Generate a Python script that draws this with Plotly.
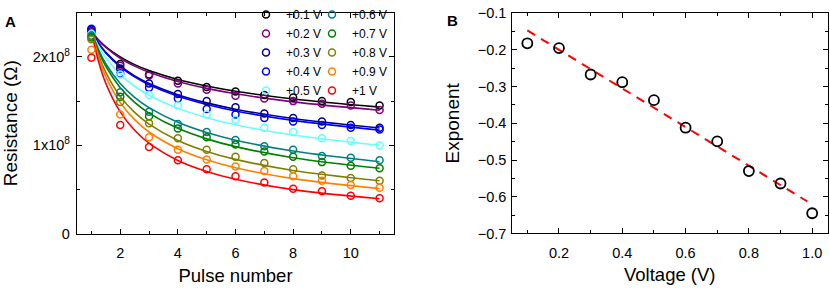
import plotly.graph_objects as go

# ---------------- data ----------------
pulses = [1, 2, 3, 4, 5, 6, 7, 8, 9, 10, 11]
labels = ["+0.1 V", "+0.2 V", "+0.3 V", "+0.4 V", "+0.5 V",
          "+0.6 V", "+0.7 V", "+0.8 V", "+0.9 V", "+1 V"]
colors = ["#000000", "#800080", "#00008B", "#0000FF", "#66FFFF",
          "#008080", "#008000", "#808000", "#FF8000", "#FF0000"]

# measured resistance (units of 1e8 Ohm)
r_01 = [2.29, 1.92, 1.80, 1.73, 1.66, 1.61, 1.57, 1.54, 1.50, 1.49, 1.45]
r_02 = [2.28, 1.90, 1.79, 1.70, 1.63, 1.56, 1.53, 1.50, 1.47, 1.45, 1.40]
r_03 = [2.31, 1.87, 1.70, 1.58, 1.50, 1.43, 1.36, 1.31, 1.27, 1.23, 1.20]
r_04 = [2.32, 1.81, 1.65, 1.53, 1.41, 1.35, 1.31, 1.27, 1.23, 1.20, 1.18]
r_05 = [2.26, 1.80, 1.57, 1.45, 1.35, 1.29, 1.20, 1.15, 1.08, 1.05, 1.00]
r_06 = [2.24, 1.60, 1.38, 1.24, 1.15, 1.06, 0.99, 0.95, 0.88, 0.86, 0.83]
r_07 = [2.22, 1.55, 1.33, 1.19, 1.09, 1.01, 0.93, 0.87, 0.81, 0.77, 0.74]
r_08 = [2.20, 1.49, 1.25, 1.08, 0.95, 0.87, 0.80, 0.73, 0.66, 0.63, 0.60]
r_09 = [2.08, 1.35, 1.09, 0.95, 0.84, 0.76, 0.71, 0.65, 0.60, 0.55, 0.52]
r_10 = [1.99, 1.23, 0.98, 0.83, 0.73, 0.65, 0.58, 0.51, 0.48, 0.43, 0.40]
measured = [r_01, r_02, r_03, r_04, r_05, r_06, r_07, r_08, r_09, r_10]

# fitted curves (units of 1e8 Ohm)
fit_x = [1, 1.25, 1.5, 2, 2.5, 3, 4, 5, 6, 8, 11]
f_01 = [2.29, 2.19, 2.115, 2.00, 1.913, 1.846, 1.745, 1.671, 1.612, 1.524, 1.432]
f_02 = [2.29, 2.187, 2.107, 1.985, 1.896, 1.826, 1.721, 1.644, 1.583, 1.492, 1.397]
f_03 = [2.29, 2.156, 2.052, 1.898, 1.786, 1.700, 1.573, 1.480, 1.409, 1.303, 1.196]
f_04 = [2.29, 2.152, 2.045, 1.887, 1.774, 1.685, 1.555, 1.462, 1.389, 1.282, 1.172]
f_05 = [2.29, 2.120, 1.991, 1.802, 1.668, 1.567, 1.418, 1.313, 1.233, 1.116, 1.000]
f_06 = [2.29, 2.080, 1.923, 1.699, 1.543, 1.426, 1.260, 1.144, 1.058, 0.935, 0.815]
f_07 = [2.29, 2.061, 1.892, 1.652, 1.487, 1.365, 1.192, 1.073, 0.985, 0.860, 0.740]
f_08 = [2.29, 2.022, 1.826, 1.554, 1.372, 1.239, 1.055, 0.931, 0.841, 0.716, 0.600]
f_09 = [2.29, 1.991, 1.777, 1.484, 1.290, 1.151, 0.962, 0.836, 0.746, 0.623, 0.510]
f_10 = [2.29, 1.945, 1.701, 1.378, 1.170, 1.024, 0.829, 0.704, 0.616, 0.499, 0.395]
fitted = [f_01, f_02, f_03, f_04, f_05, f_06, f_07, f_08, f_09, f_10]
scale = 1e8

# panel B
voltage = [0.1, 0.2, 0.3, 0.4, 0.5, 0.6, 0.7, 0.8, 0.9, 1.0]
exponent = [-0.182, -0.195, -0.267, -0.288, -0.337, -0.412, -0.449, -0.530, -0.564, -0.645]
lin_x = [0.1, 0.985]
lin_y = [-0.147, -0.613]

y_tickvals = [0, 1e8, 2e8]
y_ticktext = ["0", "1x10<sup>8</sup>", "2x10<sup>8</sup>"]

FONT = "Liberation Sans, Arial, sans-serif"

fig = go.Figure()

for i in range(10):
    fig.add_trace(go.Scatter(
        x=fit_x, y=[v * scale for v in fitted[i]], mode="lines",
        line=dict(color=colors[i], width=1.6, shape="spline", smoothing=1.0),
        showlegend=False, hoverinfo="skip", xaxis="x", yaxis="y"))
for i in range(10):
    fig.add_trace(go.Scatter(
        x=pulses, y=[v * scale for v in measured[i]], mode="markers",
        marker=dict(symbol="circle-open", size=7, color=colors[i],
                    line=dict(width=1.5, color=colors[i])),
        name=labels[i], legend="legend" if i < 5 else "legend2",
        xaxis="x", yaxis="y"))

fig.add_trace(go.Scatter(
    x=lin_x, y=lin_y, mode="lines",
    line=dict(color="#FF0000", width=2, dash="9px,7px"),
    showlegend=False, xaxis="x2", yaxis="y2"))
fig.add_trace(go.Scatter(
    x=voltage, y=exponent, mode="markers",
    marker=dict(symbol="circle-open", size=10, color="black",
                line=dict(width=1.8, color="black")),
    showlegend=False, xaxis="x2", yaxis="y2"))

axis_common = dict(showline=True, linecolor="black", linewidth=1.3, mirror="allticks",
                   ticks="inside", ticklen=5, tickwidth=1.2, tickcolor="black",
                   showgrid=False, zeroline=False,
                   tickfont=dict(family=FONT, size=14.5, color="black"))

legend_common = dict(xanchor="left", yanchor="top", bgcolor="rgba(0,0,0,0)",
                     font=dict(family=FONT, size=12), itemwidth=30, tracegroupgap=0)

fig.update_layout(
    width=830, height=288, margin=dict(l=0, r=0, t=0, b=0),
    paper_bgcolor="white", plot_bgcolor="white",
    font=dict(family=FONT, color="black"),
    xaxis=dict(domain=[77 / 830, 394 / 830], range=[0.5, 11.5], dtick=2, tick0=0,
               ticklabelstandoff=6,
               minor=dict(ticks="inside", ticklen=3, dtick=1, tick0=0, tickcolor="black"),
               title=dict(text="Pulse number", font=dict(size=18.5), standoff=8),
               **axis_common),
    yaxis=dict(domain=[1 - 239 / 288, 1 - 5 / 288], range=[0, 2.5e8],
               tickmode="array", tickvals=y_tickvals, ticktext=y_ticktext,
               ticklabelstandoff=3,
               minor=dict(ticks="inside", ticklen=3, dtick=5e7, tick0=0, tickcolor="black"),
               title=dict(text="Resistance (Ω)", font=dict(size=19), standoff=12),
               **axis_common),
    xaxis2=dict(domain=[511.5 / 830, 828 / 830], range=[0.05, 1.05], dtick=0.2, tick0=0,
                tickformat=".1f", ticklabelstandoff=6,
                minor=dict(ticks="inside", ticklen=3, dtick=0.1, tick0=0, tickcolor="black"),
                title=dict(text="Voltage (V)", font=dict(size=18.5), standoff=8),
                anchor="y2", **axis_common),
    yaxis2=dict(domain=[1 - 238.7 / 288, 1 - 5.5 / 288], range=[-0.7, -0.1], dtick=0.1,
                tick0=0, tickformat=".1f", ticklabelstandoff=1,
                minor=dict(ticks="inside", ticklen=3, dtick=0.05, tick0=0, tickcolor="black"),
                title=dict(text="Exponent", font=dict(size=19), standoff=13),
                anchor="x2", **axis_common),
    legend=dict(x=246 / 830, y=1 + 9 / 288, **legend_common),
    legend2=dict(x=312 / 830, y=1 + 9 / 288, **legend_common),
    annotations=[
        dict(text="<b>A</b>", x=3 / 830, y=1 - 3 / 288, xref="paper", yref="paper",
             xanchor="left", yanchor="top", showarrow=False,
             font=dict(family=FONT, size=15, color="black")),
        dict(text="<b>B</b>", x=445 / 830, y=1 - 2 / 288, xref="paper", yref="paper",
             xanchor="left", yanchor="top", showarrow=False,
             font=dict(family=FONT, size=15, color="black")),
    ],
)

fig.write_html("out.html", config={"displayModeBar": False},
               post_script="document.body.style.margin='0';")
